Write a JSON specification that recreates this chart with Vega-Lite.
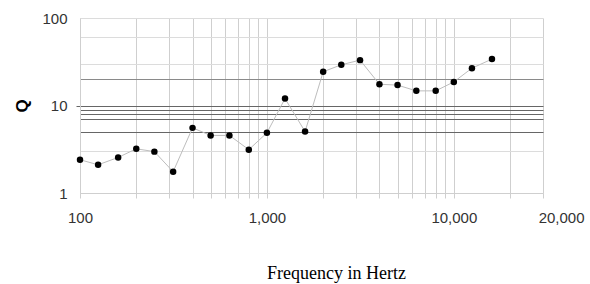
{
  "$schema": "https://vega.github.io/schema/vega-lite/v6.json",
  "width": 463,
  "height": 175,
  "autosize": "none",
  "padding": {"left": 80, "top": 18, "right": 47, "bottom": 91},
  "background": "white",
  "config": {"view": {"stroke": null}},
  "data": {
    "values": [
      {"freq": 100, "q": 2.4},
      {"freq": 125, "q": 2.1},
      {"freq": 160, "q": 2.55},
      {"freq": 200, "q": 3.2},
      {"freq": 250, "q": 2.97},
      {"freq": 315, "q": 1.75},
      {"freq": 400, "q": 5.55},
      {"freq": 500, "q": 4.55},
      {"freq": 630, "q": 4.55},
      {"freq": 800, "q": 3.13},
      {"freq": 1000, "q": 4.87},
      {"freq": 1250, "q": 12},
      {"freq": 1600, "q": 5.03},
      {"freq": 2000, "q": 24.3},
      {"freq": 2500, "q": 29.2},
      {"freq": 3150, "q": 33},
      {"freq": 4000, "q": 17.5},
      {"freq": 5000, "q": 17.1},
      {"freq": 6300, "q": 14.7},
      {"freq": 8000, "q": 14.7},
      {"freq": 10000, "q": 18.6},
      {"freq": 12500, "q": 26.7},
      {"freq": 16000, "q": 33.9}
    ]
  },
  "encoding": {
    "x": {
      "field": "freq",
      "type": "quantitative",
      "scale": {"type": "log", "domain": [100, 30000], "nice": false},
      "axis": {
        "values": [100, 200, 300, 400, 500, 600, 700, 800, 900, 1000, 2000, 3000, 4000, 5000, 6000, 7000, 8000, 9000, 10000, 20000, 30000],
        "grid": true,
        "gridColor": "#cfcfcf",
        "gridWidth": 1,
        "domainColor": "#cfcfcf",
        "tickColor": "#cfcfcf",
        "tickSize": 5,
        "labelExpr": "datum.value == 100 ? '100' : datum.value == 1000 ? '1,000' : datum.value == 10000 ? '10,000' : datum.value == 20000 ? '20,000' : ''",
        "labelOffset": {"condition": {"test": "datum.value == 20000", "value": 51}, "value": 0},
        "labelFont": "Liberation Sans",
        "labelFontSize": 15,
        "labelColor": "#333333",
        "labelPadding": 12,
        "labelOverlap": false,
        "labelFlush": false,
        "labelBound": false,
        "title": "Frequency in Hertz",
        "titleFont": "Liberation Serif",
        "titleFontSize": 18,
        "titleFontWeight": "normal",
        "titleColor": "#000000",
        "titleX": 256,
        "titleY": 85,
        "titleBaseline": "alphabetic",
        "titleAlign": "center"
      }
    },
    "y": {
      "field": "q",
      "type": "quantitative",
      "scale": {"type": "log", "domain": [1, 100], "nice": false},
      "axis": {
        "values": [1, 3, 5, 7, 8, 9, 10, 20, 30, 60, 100],
        "grid": true,
        "gridColor": {"condition": [{"test": "datum.value >= 5 && datum.value <= 10", "value": "#666666"}, {"test": "datum.value == 20", "value": "#8a8a8a"}], "value": "#dcdcdc"},
        "gridWidth": 1,
        "domainColor": "#cfcfcf",
        "tickColor": {"condition": {"test": "datum.value == 10", "value": "#666666"}, "value": "transparent"},
        "tickSize": 4,
        "labelExpr": "datum.value == 1 ? '1' : datum.value == 10 ? '10' : datum.value == 100 ? '100' : ''",
        "labelFont": "Liberation Sans",
        "labelFontSize": 15,
        "labelColor": "#333333",
        "labelPadding": 9,
        "labelOverlap": false,
        "labelBound": false,
        "labelFlush": false,
        "title": "Q",
        "titleFont": "Liberation Sans",
        "titleFontSize": 17,
        "titleFontWeight": "bold",
        "titleColor": "#000000",
        "titleAngle": -90,
        "titleX": -53,
        "titleY": 87.5,
        "titleBaseline": "alphabetic",
        "titleAlign": "center"
      }
    }
  },
  "layer": [
    {"mark": {"type": "line", "color": "#bdbdbd", "strokeWidth": 1}},
    {"mark": {"type": "point", "filled": true, "color": "#000000", "size": 42, "opacity": 1}}
  ]
}
